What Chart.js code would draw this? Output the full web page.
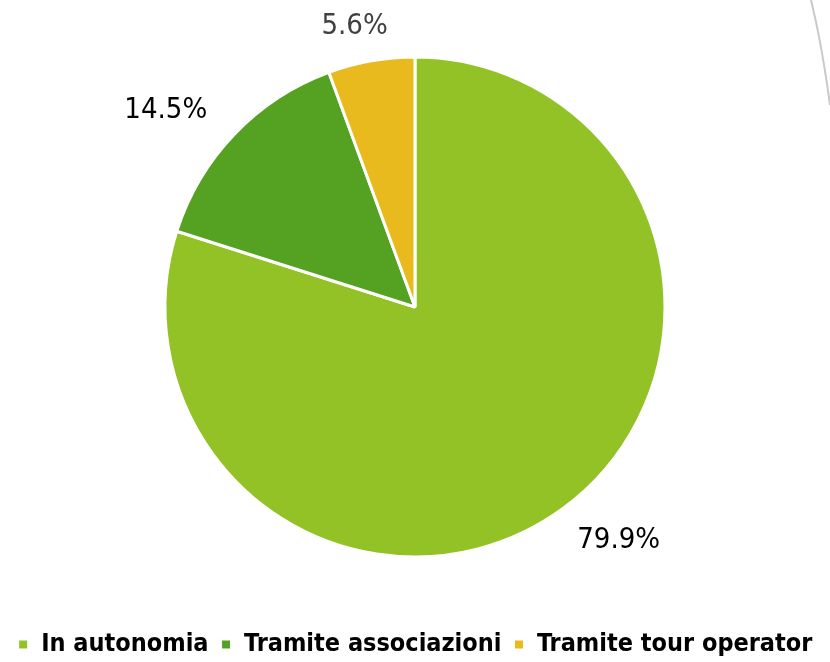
<!DOCTYPE html>
<html>
<head>
<meta charset="utf-8">
<script src="https://cdn.jsdelivr.net/npm/chart.js@4.4.0/dist/chart.umd.min.js"></script>
<style>
  html, body { margin: 0; padding: 0; background: #fff; }
  #wrap { width: 830px; height: 662px; position: relative; }
</style>
</head>
<body>
<div id="wrap"><canvas id="pie"></canvas></div>
<script>
'use strict';
var categories = ['In autonomia', 'Tramite associazioni', 'Tramite tour operator'];
var shares = [79.9, 14.5, 5.6];
var sliceColors = ['#93c226', '#55a223', '#e8ba1e'];
var labelColors = ['#000000', '#000000', '#404040'];

//draws the percent labels outside each slice
var outsideLabels = {
  id: 'outsideLabels',
  afterDatasetsDraw: function (chart) {
    let ctx = chart.ctx;
    let meta = chart.getDatasetMeta(0);
    ctx.save();
    ctx.font = '29px "DejaVu Sans Condensed", "DejaVu Sans", sans-serif';
    ctx.textAlign = 'center';
    ctx.textBaseline = 'middle';
    meta.data.forEach(function (arc, i) {
      let mid = (arc.startAngle + arc.endAngle) / 2;
      let rx = arc.outerRadius + 95;
      let ry = arc.outerRadius + 37;
      ctx.fillStyle = labelColors[i];
      ctx.fillText(shares[i].toFixed(1) + '%', arc.x + Math.cos(mid) * rx, arc.y + Math.sin(mid) * ry + 2);
    });
    ctx.restore();
  }
};

//the thin grey stroke in the top right corner of the slide
var cornerStroke = {
  id: 'cornerStroke',
  beforeDraw: function (chart) {
    let ctx = chart.ctx;
    ctx.save();
    ctx.strokeStyle = '#c9c9c9';
    ctx.lineWidth = 2;
    ctx.beginPath();
    ctx.moveTo(811, 0);
    ctx.quadraticCurveTo(822, 45, 830, 105);
    ctx.stroke();
    ctx.restore();
  }
};

new Chart(document.getElementById('pie'), {
  type: 'pie',
  data: {
    labels: categories,
    datasets: [{
      data: shares,
      backgroundColor: sliceColors,
      borderColor: '#ffffff',
      borderWidth: 3,
      radius: 250
    }]
  },
  options: {
    responsive: true,
    maintainAspectRatio: false,
    animation: false,
    layout: { padding: { top: 0, bottom: -5, left: 0, right: 0 } },
    plugins: {
      tooltip: { enabled: false },
      legend: {
        position: 'bottom',
        // empty title only used as spacer above the legend row
        title: { display: true, text: '', padding: 0, font: { size: 6, lineHeight: 1 } },
        labels: {
          boxWidth: 11,
          boxHeight: 11,
          padding: 12,
          color: '#000000',
          font: { family: '"DejaVu Sans Condensed", "DejaVu Sans", sans-serif', size: 25, weight: 'bold' }
        }
      }
    }
  },
  plugins: [outsideLabels, cornerStroke]
});
</script>
</body>
</html>
